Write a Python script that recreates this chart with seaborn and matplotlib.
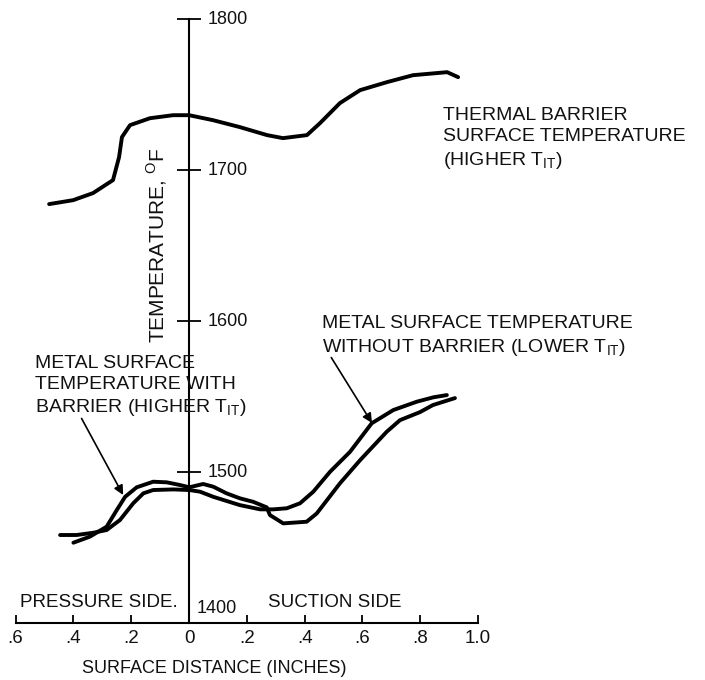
import matplotlib
matplotlib.use("Agg")
import matplotlib.pyplot as plt
import seaborn as sns

# thermal barrier surface temperature (higher T_IT)
barrier_x = [-0.484, -0.401, -0.332, -0.263, -0.242, -0.232, -0.204, -0.135, -0.055, 0.0,
             0.083, 0.176, 0.270, 0.325, 0.408, 0.453, 0.522, 0.592, 0.685, 0.775, 0.893, 0.931]
barrier_t = [1677.5, 1680.1, 1684.8, 1693.4, 1708.6, 1721.9, 1729.8, 1734.4, 1736.4, 1736.4,
             1733.1, 1728.5, 1723.2, 1721.2, 1723.2, 1731.1, 1744.4, 1753.0, 1758.3, 1762.9, 1764.9, 1761.6]

# metal surface temperature with barrier (higher T_IT)
with_x = [-0.400, -0.343, -0.285, -0.250, -0.221, -0.181, -0.124, -0.077, -0.031, 0.001,
          0.049, 0.084, 0.130, 0.176, 0.222, 0.269, 0.280, 0.326, 0.407, 0.442, 0.522,
          0.592, 0.684, 0.730, 0.799, 0.844, 0.920]
with_t = [1453.2, 1457.2, 1463.8, 1474.8, 1483.6, 1489.9, 1493.6, 1493.2, 1491.4, 1489.9,
          1492.1, 1490.3, 1485.9, 1482.6, 1480.3, 1476.6, 1471.5, 1466.0, 1467.1, 1472.6, 1492.5,
          1507.9, 1526.7, 1534.4, 1539.7, 1544.4, 1549.0]

# metal surface temperature without barrier (lower T_IT)
without_x = [-0.446, -0.389, -0.331, -0.285, -0.239, -0.193, -0.158, -0.124, -0.054, 0.001,
             0.038, 0.084, 0.176, 0.246, 0.292, 0.338, 0.384, 0.430, 0.488, 0.557, 0.632,
             0.707, 0.788, 0.845, 0.892]
without_t = [1458.3, 1458.3, 1459.8, 1461.6, 1468.2, 1479.3, 1485.9, 1488.1, 1488.5, 1488.1,
             1487.0, 1483.6, 1478.1, 1475.3, 1475.3, 1476.0, 1479.3, 1487.0, 1500.2, 1513.4, 1532.3,
             1541.1, 1546.6, 1549.5, 1551.0]

xticks = [-0.6, -0.4, -0.2, 0.0, 0.2, 0.4, 0.6, 0.8, 1.0]
xtick_labels = [".6", ".4", ".2", "0", ".2", ".4", ".6", ".8", "1.0"]
yticks = [1500, 1600, 1700, 1800]

sns.set_style("white")
plt.rcParams['font.family'] = ['Liberation Sans', 'DejaVu Sans']
plt.rcParams['text.color'] = '#111111'

fig = plt.figure(figsize=(7.05, 6.8), dpi=100)
ax = fig.add_axes([0.0221, 0.0838, 0.656, 0.888])

for xs, ts in [(barrier_x, barrier_t), (with_x, with_t), (without_x, without_t)]:
    sns.lineplot(x=xs, y=ts, sort=False, estimator=None, color='black', lw=2.8, ax=ax,
                 solid_joinstyle='round', solid_capstyle='round')

ax.set_xlim(-0.6, 1.0)
ax.set_ylim(1400, 1800)

for s in ['top', 'right']:
    ax.spines[s].set_visible(False)
ax.spines['left'].set_position(('data', 0))
ax.spines['left'].set_color('black')
ax.spines['bottom'].set_color('black')
ax.spines['left'].set_linewidth(1.5)
ax.spines['bottom'].set_linewidth(1.5)

ax.set_xticks(xticks, xtick_labels)
ax.tick_params(axis='x', direction='in', length=6, width=1.3, pad=5, labelsize=13.5,
               colors='black', labelcolor='#111111', bottom=True)
ax.set_yticks(yticks, [''] * len(yticks))
ax.tick_params(axis='y', direction='inout', length=17, width=1.3, colors='black', left=True)

for t in yticks:
    ax.text(0.066, t, str(t), fontsize=13, va='center', ha='left')
ax.text(0.028, 1409.3, "1400", fontsize=13, va='center', ha='left')

ax.text(-0.585, 1410.6, "PRESSURE SIDE.", fontsize=13.5, va='baseline', ha='left')
ax.text(0.273, 1410.6, "SUCTION SIDE", fontsize=13.5, va='baseline', ha='left')
ax.text(0.088, 1375.5, "SURFACE DISTANCE (INCHES)", fontsize=13, va='top', ha='center',
        clip_on=False)
ax.text(-0.111, 1650.3, r"TEMPERATURE, $^{\mathregular{O}}$F", fontsize=15, rotation=90,
        va='center', ha='center')

note = dict(fontsize=14, linespacing=1.3, va='top', ha='left', annotation_clip=False)
ax.annotate("THERMAL BARRIER\nSURFACE TEMPERATURE\n(HIGHER T$_{\\mathregular{IT}}$)",
            xy=(0.879, 1741.7), **note)
ax.annotate("METAL SURFACE TEMPERATURE\nWITHOUT BARRIER (LOWER T$_{\\mathregular{IT}}$)",
            xy=(0.633, 1532.5), xytext=(0.460, 1604.0),
            arrowprops=dict(arrowstyle='-|>', color='black', lw=1.2, mutation_scale=14,
                            shrinkA=0, shrinkB=0, patchA=None,
                            relpos=(0.03, 0.0)),
            **note)
ax.annotate("METAL SURFACE\nTEMPERATURE WITH\nBARRIER (HIGHER T$_{\\mathregular{IT}}$)",
            xy=(-0.228, 1484.8), xytext=(-0.533, 1577.5),
            arrowprops=dict(arrowstyle='-|>', color='black', lw=1.2, mutation_scale=14,
                            shrinkA=0, shrinkB=0, patchA=None,
                            relpos=(0.22, 0.0)),
            **note)

fig.savefig("out.png", dpi=100, facecolor='white')
